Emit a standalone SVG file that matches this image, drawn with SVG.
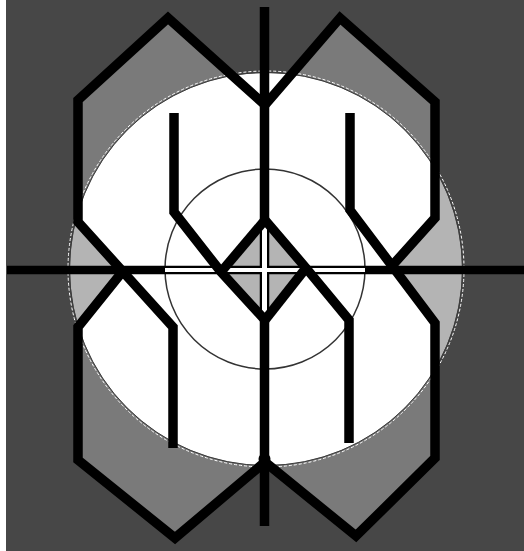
<svg xmlns="http://www.w3.org/2000/svg" width="524" height="551" viewBox="0 0 524 551">
<style>
.ln{fill:none;stroke:#000;stroke-width:9.5;stroke-linejoin:miter;stroke-linecap:butt}
.wt{fill:none;stroke:#fff;stroke-linecap:butt}
</style>
<defs>
<clipPath id="cp">
<polygon points="78,100 168,18 340,18 435,102 435,218 390,268 435,323 435,458 356,536 175,538 78,460 78,327 123,271 78,222"/>
</clipPath>
</defs>
<rect x="0" y="0" width="524" height="551" fill="#474747"/>
<rect x="0" y="0" width="6" height="551" fill="#fff"/>
<g id="shapes">
<polygon points="78,100 168,18 265,105 340,18 435,102 435,218 390,268 435,323 435,458 356,536 265,462 175,538 78,460 78,327 123,271 78,222" fill="#7a7a7a"/>
<circle cx="266" cy="269" r="196" fill="#b4b4b4"/>
<circle cx="266" cy="269" r="196" fill="#fff" clip-path="url(#cp)"/>
<polygon points="265,220 306,268 265,320 221,272" fill="#b4b4b4"/>
<circle cx="266" cy="269" r="196.5" fill="none" stroke="#3a3a3a" stroke-width="1"/>
<circle cx="266" cy="269" r="198" fill="none" stroke="#fff" stroke-width="1" stroke-dasharray="3,2"/>
<circle cx="265" cy="269" r="100" fill="none" stroke="#333" stroke-width="1.5"/>
</g>
<g id="lines">
<line class="ln" x1="264.5" y1="7" x2="264.5" y2="526"/>
<line class="ln" x1="7" y1="270" x2="524" y2="270" style="stroke-width:8.5"/>
<line class="wt" x1="165" y1="270" x2="365" y2="270" stroke-width="4"/>
<line class="wt" x1="264.5" y1="222" x2="264.5" y2="318" stroke-width="5"/>
<polyline class="ln" points="265,105 168,18 78,100 78,222 173,327 173,448"/>
<polyline class="ln" points="123,271 78,327 78,460 175,538 265,462"/>
<polyline class="ln" points="265,105 340,18 435,102 435,218 390,268"/>
<polyline class="ln" points="350,113 350,210 435,323 435,458 356,536 265,462"/>
<polyline class="ln" points="174,113 174,212 221,272 265,320"/>
<polyline class="ln" points="265,220 306,268 349,320 349,443"/>
<line class="ln" x1="265" y1="220" x2="221" y2="272"/>
<line class="ln" x1="306" y1="268" x2="265" y2="320"/>
<circle cx="264.5" cy="459" r="6" fill="#000"/>
</g>
</svg>
